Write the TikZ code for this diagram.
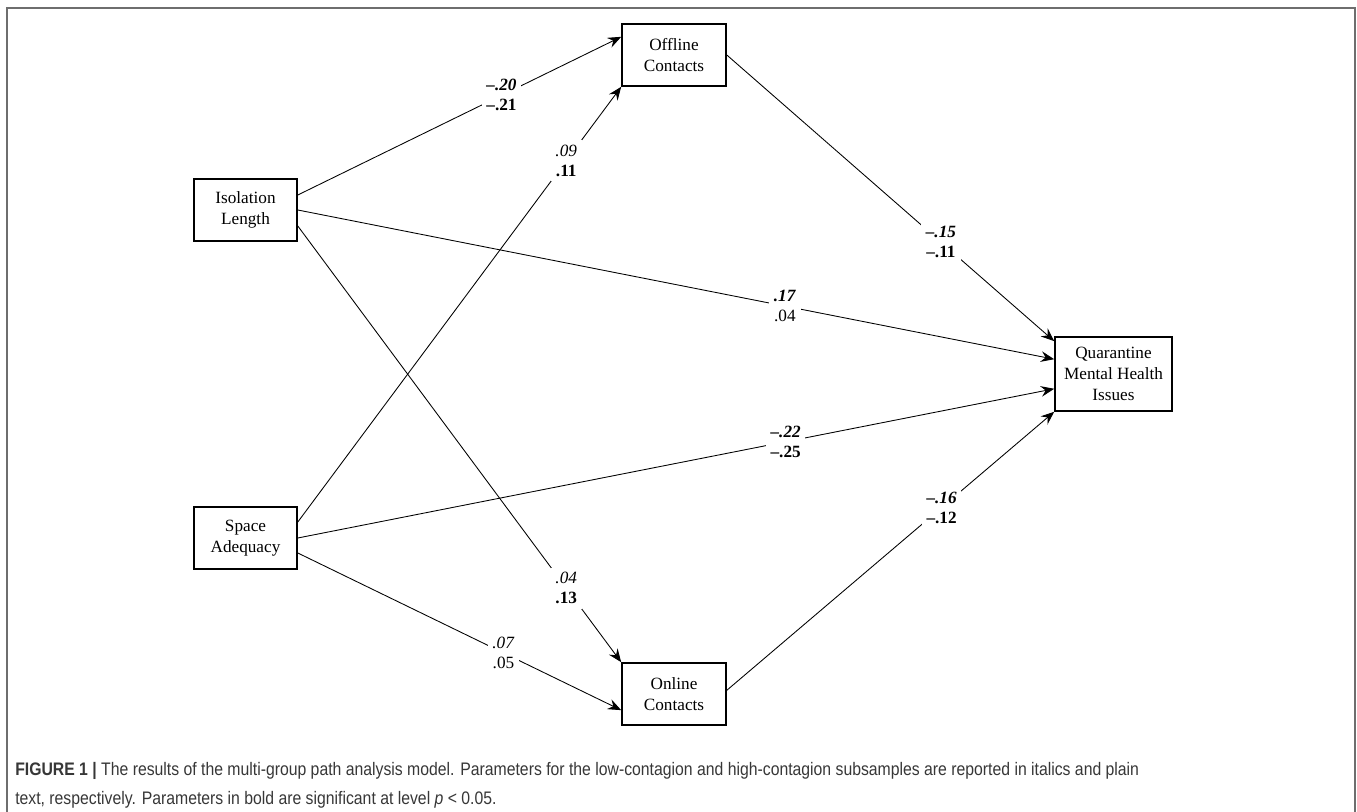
\documentclass[tikz,border=0pt]{standalone}
\usepackage{fontspec}
\setmainfont{Liberation Serif}
\newfontfamily\capfont[FakeStretch=0.87]{Liberation Sans}
\usepackage{xcolor}
\usetikzlibrary{arrows.meta}
\definecolor{capgray}{RGB}{55,55,55}
\definecolor{framegray}{RGB}{110,110,110}

\begin{document}
\begin{tikzpicture}[x=0.75pt,y=-0.75pt,
  var/.style={draw, line width=1.2pt, minimum width=77.25pt, minimum height=46.5pt, inner sep=2pt, align=center, font=\fontsize{12.9}{15.5}\selectfont},
  link/.style={line width=0.65pt, -{Stealth[length=10pt,width=8pt,inset=3.5pt]}},
  coef/.style={fill=white, inner sep=3.5pt, align=center, font=\fontsize{12.9}{15}\selectfont}]
\useasboundingbox (0,0) rectangle (1357,812);
\draw[framegray, line width=1.1pt] (7,812)--(7,8)--(1355,8)--(1355,812);

\node[var] (iso) at (245.5,210) {Isolation\\Length};
\node[var] (spa) at (245.5,538) {Space\\Adequacy};
\node[var, minimum width=78pt] (off) at (674,55) {Offline\\Contacts};
\node[var, minimum width=78pt] (onl) at (674,694) {Online\\Contacts};
\node[var, minimum width=87.75pt, minimum height=55.5pt] (qmh) at (1113.5,374) {Quarantine\\Mental Health\\Issues};

\draw[link] (iso.16) -- (off.161) node[coef,pos=.63] {\textbf{\textit{--.20}}\\\textbf{--.21}};
\draw[link] (spa.17) -- (off.south west) node[coef,pos=.83] {\textit{.09}\\\textbf{.11}};
\draw[link] (off.0) -- (qmh.151) node[coef,pos=.654] {\textbf{\textit{--.15}}\\\textbf{--.11}};
\draw[link] (iso.east) -- (qmh.166) node[coef,pos=.644] {\textbf{\textit{.17}}\\.04};
\draw[link] (spa.east) -- (qmh.194) node[coef,pos=.645] {\textbf{\textit{--.22}}\\\textbf{--.25}};
\draw[link] (iso.-17) -- (onl.north west) node[coef,pos=.83] {\textit{.04}\\\textbf{.13}};
\draw[link] (spa.-16) -- (onl.197) node[coef,pos=.636] {\textit{.07}\\.05};
\draw[link] (onl.4) -- (qmh.south west) node[coef,pos=.656] {\textbf{\textit{--.16}}\\\textbf{--.12}};

\node[anchor=base west, inner sep=0, text=capgray, font=\capfont\fontsize{13.6}{16}\selectfont] (cap1) at (15,775) {\textbf{FIGURE 1 |} The results of the multi-group path analysis model. Parameters for the low-contagion and high-contagion subsamples are reported in italics and plain};
\node[anchor=base west, inner sep=0, text=capgray, font=\capfont\fontsize{13.6}{16}\selectfont] (cap2) at (15,804) {text, respectively. Parameters in bold are significant at level \textit{p} < 0.05.};
\end{tikzpicture}
\end{document}
